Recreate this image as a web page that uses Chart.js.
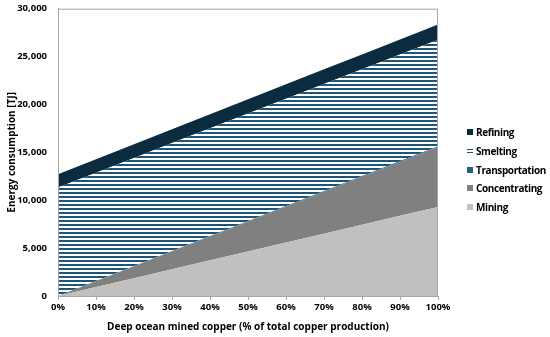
<!DOCTYPE html>
<html lang="en">
<head>
  <meta charset="UTF-8">
  <title>Deep ocean copper energy consumption</title>
  <script src="https://cdn.jsdelivr.net/npm/chart.js"></script>
  <style>
    body {
      margin: 0;
      background: #ffffff;
      font-family: 'Open Sans', sans-serif;
    }
    .wrap {
      position: relative;
      width: 550px;
      height: 337px;
    }
    .legend {
      position: absolute;
      left: 467px;
      top: 123px;
      font-weight: 700;
      font-size: 10px;
      letter-spacing: -0.4px;
      color: #000;
    }
    .legend div {
      height: 18.7px;
      display: flex;
      align-items: center;
    }
    .legend span.sw {
      display: inline-block;
      width: 6px;
      height: 6px;
      margin-right: 3px;
    }
  </style>
</head>
<body>
  <div class="wrap">
    <canvas id="energyChart" width="550" height="337"></canvas>
    <div class="legend" id="legend"></div>
  </div>

  <script>
    const xLabels = ['0%', '10%', '20%', '30%', '40%', '50%', '60%', '70%', '80%', '90%', '100%'];
    const mining = [0, 930, 1860, 2790, 3720, 4650, 5580, 6510, 7440, 8370, 9300];
    const concentrating = [0, 625, 1250, 1875, 2500, 3125, 3750, 4375, 5000, 5625, 6250];
    const transportation = [0, 10, 20, 30, 40, 50, 60, 70, 80, 90, 100];
    const smelting = [11330, 11310, 11290, 11270, 11250, 11220, 11200, 11180, 11160, 11130, 11110];
    const refining = [1390, 1410, 1430, 1450, 1470, 1490, 1510, 1530, 1550, 1570, 1590];

    const ctx = document.getElementById('energyChart').getContext('2d');

    // horizontal stripes for smelting
    const pc = document.createElement('canvas');
    pc.width = 4; pc.height = 4;
    const p = pc.getContext('2d');
    p.fillStyle = '#ffffff';
    p.fillRect(0, 0, 4, 4);
    p.fillStyle = '#1c5578';
    p.fillRect(0, 0, 4, 2);
    const stripes = ctx.createPattern(pc, 'repeat');

    const font = { family: 'Open Sans', weight: 'bold', size: 10 };
    const tickFont = { family: 'Open Sans', weight: 'bold', size: 9.5 };

    const boxPlugin = {
      id: 'box',
      afterDraw(chart) {
        const a = chart.chartArea;
        const c = chart.ctx;
        c.save();
        c.strokeStyle = '#a6a6a6';
        c.lineWidth = 1;
        c.strokeRect(a.left + 0.5, a.top + 0.5, a.right - a.left - 1, a.bottom - a.top);
        c.restore();
      }
    };

    const chart = new Chart(ctx, {
      type: 'line',
      data: {
        labels: xLabels,
        datasets: [
          { label: 'Mining', data: mining, backgroundColor: '#c0c0c0', fill: 'origin' },
          { label: 'Concentrating', data: concentrating, backgroundColor: '#808080', fill: '-1' },
          { label: 'Transportation', data: transportation, backgroundColor: '#1d6283', fill: '-1' },
          { label: 'Smelting', data: smelting, backgroundColor: stripes, fill: '-1' },
          { label: 'Refining', data: refining, backgroundColor: '#0b2c3f', fill: '-1' }
        ]
      },
      options: {
        responsive: false,
        animation: false,
        elements: {
          point: { radius: 0 },
          line: { borderWidth: 0, tension: 0 }
        },
        layout: { padding: { left: 6, right: 112, top: 7, bottom: 0 } },
        plugins: {
          legend: { display: false },
          tooltip: { enabled: false }
        },
        scales: {
          x: {
            offset: false,
            grid: { display: true, drawOnChartArea: false, drawTicks: true, tickLength: 4, color: '#a6a6a6' },
            border: { color: '#a6a6a6' },
            ticks: { color: '#000', font: tickFont, maxRotation: 0, padding: 2 },
            title: { display: true, text: 'Deep ocean mined copper (% of total copper production)', color: '#000', font: font, padding: { top: 3 } },
            afterFit: s => { s.height = 41; }
          },
          y: {
            stacked: true,
            min: 0,
            max: 30000,
            grid: { display: false },
            border: { color: '#a6a6a6' },
            ticks: { stepSize: 5000, color: '#000', font: tickFont, padding: 3 },
            title: { display: true, text: 'Energy consumption [TJ]', color: '#000', font: font, padding: 0 },
            afterFit: s => { s.width = 52; }
          }
        }
      },
      plugins: [boxPlugin]
    });

    // legend, top to bottom
    const legendItems = [
      ['Refining', '#0b2c3f'],
      ['Smelting', null],
      ['Transportation', '#1d6283'],
      ['Concentrating', '#808080'],
      ['Mining', '#c0c0c0']
    ];
    const legend = document.getElementById('legend');
    legendItems.forEach(([name, color]) => {
      const row = document.createElement('div');
      const sw = document.createElement('span');
      sw.className = 'sw';
      if (color) {
        sw.style.background = color;
      } else {
        sw.style.background = 'linear-gradient(#fff 0 1px, #1c5578 1px 2px, #fff 2px 4px, #1c5578 4px 5px, #fff 5px 6px)';
      }
      row.appendChild(sw);
      row.appendChild(document.createTextNode(name));
      legend.appendChild(row);
    });
  </script>
</body>
</html>
